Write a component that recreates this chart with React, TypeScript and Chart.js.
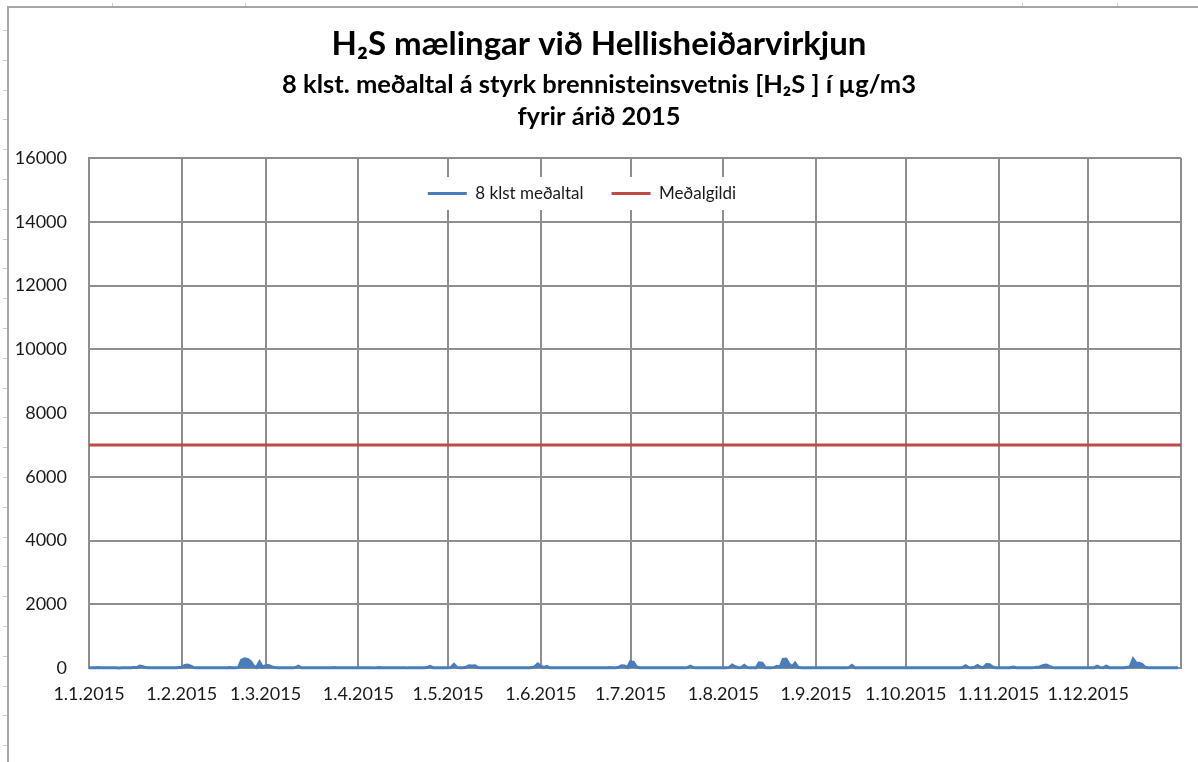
import React, { useEffect, useRef } from 'react';
import { Chart, registerables } from 'chart.js';

Chart.register(...registerables);

// ---- data (8-hour average H2S, one value per day, µg/m3) ----
const jan = [10, 5, 8, 12, 6, 4, 9, 11, 7, 5, 3, 8, 10, 6, 9, 12, 15, 60, 40, 12, 8, 6, 5, 9, 11, 7, 4, 6, 10, 8, 12];
const feb = [15, 80, 90, 60, 12, 8, 6, 10, 5, 7, 9, 11, 6, 4, 8, 10, 12, 7, 5, 20, 250, 290, 270, 200, 60, 15, 190, 30];
const mar = [70, 80, 40, 12, 8, 6, 9, 5, 7, 10, 12, 60, 8, 6, 4, 9, 11, 7, 5, 8, 10, 6, 9, 12, 7, 5, 8, 4, 6, 9, 7];
const apr = [6, 8, 5, 9, 7, 4, 10, 12, 8, 6, 5, 9, 7, 11, 8, 6, 4, 10, 7, 5, 9, 8, 6, 12, 50, 10, 7, 5, 8, 6];
const may = [8, 12, 110, 15, 6, 9, 20, 70, 60, 70, 12, 8, 5, 9, 7, 6, 10, 8, 5, 7, 9, 6, 11, 8, 5, 7, 10, 6, 12, 40, 130];
const jun = [60, 10, 50, 8, 6, 9, 5, 7, 10, 6, 8, 4, 9, 7, 5, 8, 6, 10, 7, 5, 9, 6, 8, 12, 7, 10, 20, 70, 60, 15];
const jul = [200, 180, 30, 8, 6, 9, 5, 7, 10, 6, 8, 5, 9, 7, 4, 8, 6, 10, 7, 15, 60, 12, 8, 5, 9, 6, 7, 10, 8, 5, 6];
const aug = [8, 6, 20, 90, 40, 10, 12, 80, 15, 8, 6, 10, 160, 150, 12, 8, 6, 20, 50, 30, 270, 280, 120, 40, 150, 20, 8, 6, 10, 7, 5];
const sep = [9, 6, 8, 5, 7, 10, 6, 8, 4, 9, 7, 12, 80, 10, 6, 8, 5, 9, 7, 6, 10, 8, 5, 7, 9, 6, 8, 10, 7, 5];
const oct = [6, 8, 5, 9, 7, 10, 6, 8, 4, 9, 7, 5, 8, 6, 10, 7, 5, 9, 6, 12, 70, 15, 10, 20, 80, 25, 15, 110, 100, 30, 10];
const nov = [8, 6, 10, 5, 7, 30, 9, 6, 8, 5, 7, 10, 12, 20, 40, 80, 90, 50, 15, 8, 6, 9, 7, 5, 8, 10, 6, 7, 9, 6];
const dec = [8, 6, 10, 60, 12, 8, 60, 10, 7, 5, 9, 6, 8, 20, 40, 280, 150, 150, 110, 20, 8, 6, 9, 7, 5, 8, 10, 6, 7, 9, 6];

const dailyValues = [...jan, ...feb, ...mar, ...apr, ...may, ...jun, ...jul, ...aug, ...sep, ...oct, ...nov, ...dec];

const meanDays = [0, 365];
const meanValues = [7000, 7000];

const monthStartDays = [0, 31, 59, 90, 120, 151, 181, 212, 243, 273, 304, 334];
const monthLabels = ['1.1.2015', '1.2.2015', '1.3.2015', '1.4.2015', '1.5.2015', '1.6.2015', '1.7.2015', '1.8.2015', '1.9.2015', '1.10.2015', '1.11.2015', '1.12.2015'];
const yearEndDay = 365;

const yMin = 0;
const yMax = 16000;
const yStep = 2000;

const seriesNames = ['8 klst meðaltal', 'Meðalgildi'];
const titleText = 'H₂S mælingar við Hellisheiðarvirkjun';
const subtitleLines = ['8 klst. meðaltal á styrk brennisteinsvetnis [H₂S ] í µg/m3', 'fyrir árið 2015'];

const FONT = 'Lato';
const BLUE = '#4a7ebb';
const RED = '#be4b48';
const GRID = '#8e8e8e';
const LEGEND_SHIFT_X = -17;

const framePlugin = {
  id: 'frame',
  beforeDraw(chart: any) {
    const { ctx, width, height } = chart;
    ctx.save();
    ctx.fillStyle = '#ffffff';
    ctx.fillRect(0, 0, width, height);
    ctx.strokeStyle = '#a6a6a6';
    ctx.lineWidth = 2;
    ctx.beginPath();
    ctx.moveTo(8, height);
    ctx.lineTo(8, 7);
    ctx.lineTo(width, 7);
    ctx.stroke();
    ctx.strokeStyle = '#c5cbe2';
    ctx.lineWidth = 1;
    for (let y = 30; y < height; y += 29.8) {
      const yy = Math.round(y) + 0.5;
      ctx.beginPath();
      ctx.moveTo(3, yy);
      ctx.lineTo(7, yy);
      ctx.stroke();
    }
    [112, 245, 1022, 1117].forEach((x) => {
      ctx.beginPath();
      ctx.moveTo(x + 0.5, 3);
      ctx.lineTo(x + 0.5, 6);
      ctx.stroke();
    });
    ctx.restore();
  },
};

// Places the legend inside the plot area (as in the reference) on a white patch
const legendMaskPlugin = {
  id: 'legendMask',
  afterLayout(chart: any) {
    const lg: any = chart.legend;
    if (!lg) return;
    lg.bottom = lg.top + 70;
    lg.height = 70;
    lg.left += LEGEND_SHIFT_X;
    lg.right += LEGEND_SHIFT_X;
    if (lg._masked) return;
    const orig = lg.draw.bind(lg);
    lg.draw = (...args: any[]) => {
      const hbs = lg.legendHitBoxes || [];
      if (hbs.length) {
        let l = Infinity, r = -Infinity, t = Infinity, b = -Infinity;
        hbs.forEach((h: any) => {
          l = Math.min(l, h.left);
          r = Math.max(r, h.left + h.width);
          t = Math.min(t, h.top);
          b = Math.max(b, h.top + h.height);
        });
        const ctx = chart.ctx;
        ctx.save();
        ctx.fillStyle = '#ffffff';
        ctx.fillRect(l - 8, t - 8, r - l + 16, b - t + 16);
        ctx.restore();
      }
      orig(...args);
    };
    lg._masked = true;
  },
};

export default function App() {
  const canvasRef = useRef<HTMLCanvasElement | null>(null);

  useEffect(() => {
    const canvas = canvasRef.current;
    if (!canvas) return;
    const chart = new Chart(canvas, {
      type: 'line',
      data: {
        datasets: [
          {
            label: seriesNames[0],
            data: dailyValues.map((v, i) => ({ x: i, y: v })),
            borderColor: BLUE,
            backgroundColor: BLUE,
            borderWidth: 3,
            pointRadius: 0,
            tension: 0,
            fill: 'origin',
            clip: 4,
          },
          {
            label: seriesNames[1],
            data: meanDays.map((d, i) => ({ x: d, y: meanValues[i] })),
            borderColor: RED,
            backgroundColor: RED,
            borderWidth: 3,
            pointRadius: 0,
            fill: false,
          },
        ],
      },
      options: {
        animation: false,
        responsive: false,
        devicePixelRatio: 1,
        layout: { padding: { left: 8, right: 8, top: 7, bottom: 0 } },
        font: { family: FONT },
        plugins: {
          title: {
            display: true,
            text: titleText,
            color: '#000',
            font: { family: FONT, size: 33, weight: 'bold', lineHeight: 1.2 },
            padding: { top: 18, bottom: 0 },
          },
          subtitle: {
            display: true,
            text: subtitleLines,
            color: '#000',
            font: { family: FONT, size: 25.5, weight: 'bold', lineHeight: 1.255 },
            padding: { top: 4.4, bottom: 24 },
          },
          legend: {
            display: true,
            position: 'top',
            maxHeight: 1,
            labels: {
              usePointStyle: true,
              pointStyle: 'line',
              pointStyleWidth: 39,
              padding: 28,
              color: '#1a1a1a',
              font: { family: FONT, size: 17 },
            },
          },
          tooltip: { enabled: false },
        },
        scales: {
          x: {
            type: 'linear',
            min: 0,
            max: yearEndDay,
            afterBuildTicks: (scale: any) => {
              scale.ticks = [...monthStartDays, yearEndDay].map((v) => ({ value: v }));
            },
            afterFit: (scale: any) => {
              scale.height = 94;
            },
            ticks: {
              autoSkip: false,
              maxRotation: 0,
              padding: 15,
              color: '#1a1a1a',
              font: { family: FONT, size: 18 },
              callback: (value: any) => {
                const idx = monthStartDays.indexOf(Number(value));
                return idx >= 0 ? monthLabels[idx] : '';
              },
            },
            grid: { color: GRID, lineWidth: 2, drawTicks: false },
            border: { color: GRID, width: 2 },
          },
          y: {
            type: 'linear',
            min: yMin,
            max: yMax,
            afterFit: (scale: any) => {
              scale.width = 81;
            },
            ticks: {
              stepSize: yStep,
              padding: 22,
              color: '#1a1a1a',
              font: { family: FONT, size: 18 },
              callback: (value: any) => String(value),
            },
            grid: { color: GRID, lineWidth: 2, drawTicks: false },
            border: { color: GRID, width: 2 },
          },
          yPad: {
            type: 'linear',
            position: 'right',
            display: true,
            afterFit: (scale: any) => {
              scale.width = 9;
            },
            ticks: { display: false },
            grid: { display: false, drawTicks: false },
            border: { display: false },
          },
        },
      } as any,
      plugins: [framePlugin, legendMaskPlugin],
    });
    return () => chart.destroy();
  }, []);

  return (
    <div style={{ position: 'absolute', left: 0, top: 0, width: 1198, height: 762 }}>
      <canvas ref={canvasRef} width={1198} height={762} style={{ display: 'block' }} />
    </div>
  );
}
